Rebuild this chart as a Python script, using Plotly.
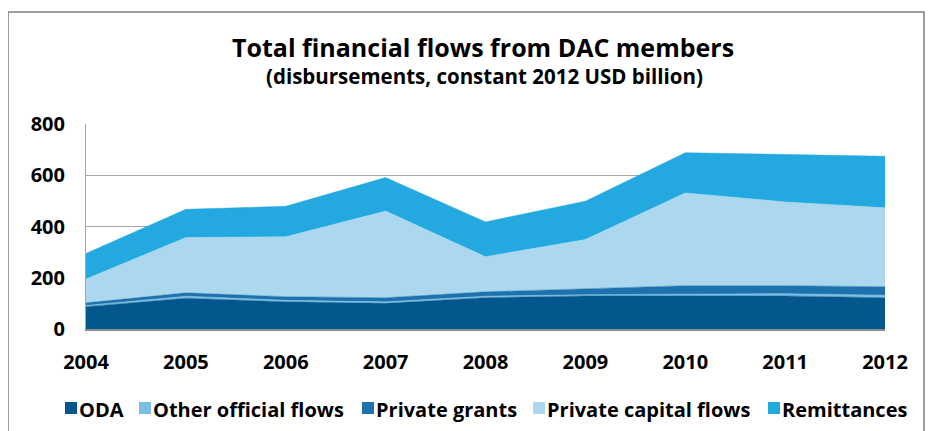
import plotly.graph_objects as go

years = [2004, 2005, 2006, 2007, 2008, 2009, 2010, 2011, 2012]
oda = [87, 120, 106, 100, 122, 129, 129, 129, 122]
other_official = [5, 8, 6, 6, 6, 5, 7, 9, 10]
private_grants = [10, 13, 14, 16, 17, 23, 33, 31, 33]
private_capital = [93, 216, 234, 338, 137, 192, 362, 327, 308]
remittances = [100, 110, 119, 131, 136, 150, 157, 186, 201]

series_names = ["ODA", "Other official flows", "Private grants",
                "Private capital flows", "Remittances"]
series_values = [oda, other_official, private_grants, private_capital, remittances]
series_colors = ["#04578C", "#7DBFE3", "#1D72AD", "#ABD8EF", "#24A8E0"]
legend_square_left = [65, 139, 362, 533, 768]  # page px

FONT = "Open Sans"
OFF = 8  # page body margin offset
W, H = 939, 431
# desired page-pixel plot area: x 86..885, y 124..329
PL, PR, PT, PB = 86, 885, 124, 329
ML, MT = PL - OFF, PT - OFF
MR = W - (PR - OFF)
MB = H - (PB - OFF)
PW = PR - PL
PH = PB - PT


def px_x(x):
    return (x - PL) / PW


def px_y(y):
    return (PB - y) / PH


fig = go.Figure()
for name, vals, col in zip(series_names, series_values, series_colors):
    fig.add_trace(go.Scatter(
        x=years, y=vals, name=name, stackgroup="one", mode="lines",
        line=dict(width=0.5, color=col), fillcolor=col, showlegend=False,
    ))

shapes = [dict(
    type="rect", xref="paper", yref="paper",
    x0=px_x(8), x1=px_x(924), y0=px_y(470), y1=px_y(12),
    line=dict(color="#7F7F7F", width=1.5), fillcolor="rgba(0,0,0,0)",
    layer="below",
)]
annotations = [
    dict(text="Total financial flows from DAC members", xref="paper", yref="paper",
         x=px_x(483), y=px_y(47), xanchor="center", yanchor="middle", showarrow=False,
         font=dict(size=25, family=FONT, weight=700)),
    dict(text="(disbursements, constant 2012 USD billion)", xref="paper", yref="paper",
         x=px_x(484), y=px_y(76), xanchor="center", yanchor="middle", showarrow=False,
         font=dict(size=20.5, family=FONT, weight=700)),
]
LEG_Y = 408
for name, col, sx in zip(series_names, series_colors, legend_square_left):
    shapes.append(dict(
        type="rect", xref="paper", yref="paper",
        x0=px_x(sx), x1=px_x(sx + 12), y0=px_y(LEG_Y + 6), y1=px_y(LEG_Y - 6),
        line=dict(width=0), fillcolor=col,
    ))
    annotations.append(dict(
        text=name, xref="paper", yref="paper", x=px_x(sx + 14), y=px_y(LEG_Y + 1),
        xanchor="left", yanchor="middle", showarrow=False,
        font=dict(size=20, family=FONT, weight=700), xshift=-2,
    ))

fig.update_layout(
    width=W, height=H,
    margin=dict(l=ML, r=MR, t=MT, b=MB, autoexpand=False),
    paper_bgcolor="white", plot_bgcolor="white",
    font=dict(family=FONT, color="black"),
    showlegend=False,
    xaxis=dict(
        range=[2004, 2012], tickmode="array", tickvals=years,
        ticktext=[str(y) for y in years],
        showgrid=False, showline=True, linecolor="#8C8C8C", linewidth=2,
        ticks="", tickfont=dict(size=20, family=FONT, weight=700),
        ticklabelstandoff=14, zeroline=False,
    ),
    yaxis=dict(
        range=[0, 800], tickvals=[0, 200, 400, 600, 800],
        showgrid=True, gridcolor="#A6A6A6", gridwidth=1,
        showline=True, linecolor="#A6A6A6", linewidth=1,
        ticks="", tickfont=dict(size=20, family=FONT, weight=700),
        ticklabelstandoff=16, zeroline=False,
    ),
    shapes=shapes,
    annotations=annotations,
)

fig.write_html("out.html")
